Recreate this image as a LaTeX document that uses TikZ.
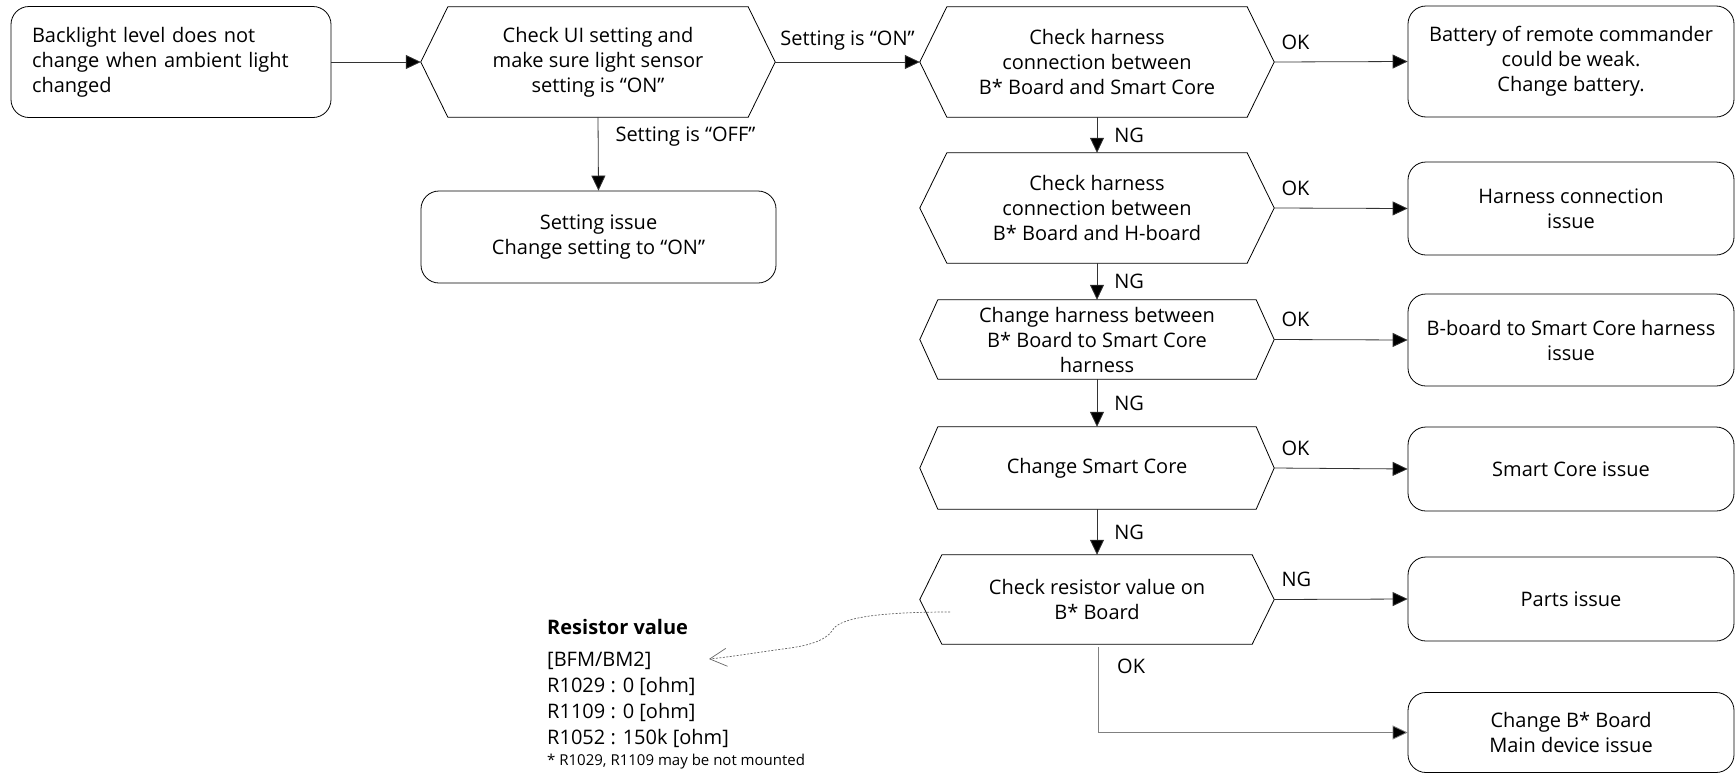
\documentclass[tikz,border=0pt]{standalone}
\usepackage{fontspec}
\setmainfont{Open Sans}
\usetikzlibrary{arrows.meta,calc}
\newcommand\hexdraw[2]{\draw[line width=0.8pt] (#1.west) -- ([xshift=#2]#1.north west) -- ([xshift=-#2]#1.north east) -- (#1.east) -- ([xshift=-#2]#1.south east) -- ([xshift=#2]#1.south west) -- cycle;}
\begin{document}
\begin{tikzpicture}[x=1pt,y=-1pt,
  every node/.style={font=\fontsize{20}{25}\selectfont},
  box/.style={draw, line width=0.8pt, rounded corners=18pt, align=center, inner sep=0pt},
  rbox/.style={box, minimum width=326pt},
  startbox/.style={draw, line width=0.8pt, rounded corners=18pt, align=left, inner xsep=21pt, inner ysep=0pt, text width=278pt, minimum height=111pt},
  hexn/.style={inner sep=0pt, align=center, minimum width=354pt},
  arr/.style={line width=0.8pt, draw=black!80, -{Triangle[length=15pt,width=14pt,fill=black]}},
  lbl/.style={inner sep=0pt, anchor=west}
]
\useasboundingbox (0,0) rectangle (1736,774);

% nodes
\node[startbox] (start) at (171,62) {Backlight level does not\\change when ambient light\\changed};
\node[hexn, minimum height=110pt] (h1) at (598,62) {Check UI setting and\\make sure light sensor\\setting is “ON”};
\node[box, minimum width=355pt, minimum height=92pt] (set) at (598.5,237) {Setting issue\\Change setting to “ON”};

\node[hexn, minimum height=110pt] (h2) at (1097,62) {Check harness\\connection between\\B* Board and Smart Core};
\node[hexn, minimum height=110pt] (h3) at (1097,208) {Check harness\\connection between\\B* Board and H-board};
\node[hexn, minimum height=79pt] (h4) at (1097,339.5) {Change harness between\\B* Board to Smart Core\\harness};
\node[hexn, minimum height=82pt] (h5) at (1097,468) {Change Smart Core};
\node[hexn, minimum height=89pt] (h6) at (1097,599.5) {Check resistor value on\\B* Board};

\hexdraw{h1}{27pt}
\hexdraw{h2}{27pt}
\hexdraw{h3}{27pt}
\hexdraw{h4}{18pt}
\hexdraw{h5}{18pt}
\hexdraw{h6}{22pt}

\node[rbox, minimum height=111pt] (b1) at (1571,61.5) {Battery of remote commander\\could be weak.\\Change battery.};
\node[rbox, minimum height=93pt] (b2) at (1571,208.5) {Harness connection\\issue};
\node[rbox, minimum height=92pt] (b3) at (1571,340) {B-board to Smart Core harness\\issue};
\node[rbox, minimum height=84pt] (b4) at (1571,469) {Smart Core issue};
\node[rbox, minimum height=84pt] (b5) at (1571,599) {Parts issue};
\node[rbox, minimum height=80pt] (b6) at (1571,732.5) {Change B* Board\\Main device issue};

% resistor note
\node[inner sep=0pt, anchor=north west, font=\fontsize{20}{25}\selectfont\bfseries] (rtitle) at (547,619) {Resistor value};
\node[inner sep=0pt, anchor=north west, align=left, font=\fontsize{20}{26}\selectfont] (rbody) at (547,652) {[BFM/BM2]\\R1029 : 0 [ohm]\\R1109 : 0 [ohm]\\R1052 : 150k [ohm]\\[-5pt]{\fontsize{15}{18}\selectfont * R1029, R1109 may be not mounted}};

% connectors
\draw[arr] (start.east) -- (h1.west);
\draw[arr] (h1.east) -- node[midway, inner sep=0pt, yshift=21pt] {Setting is “ON”} (h2.west);
\draw[arr] (h1.south) -- node[pos=0.27, lbl, xshift=17pt] {Setting is “OFF”} (set.north);

\draw[arr] (h2.east) -- node[pos=0, lbl, xshift=7pt, yshift=20pt] {OK} (b1.west);
\draw[arr] (h3.east) -- node[pos=0, lbl, xshift=7pt, yshift=20pt] {OK} (b2.west);
\draw[arr] (h4.east) -- node[pos=0, lbl, xshift=7pt, yshift=20pt] {OK} (b3.west);
\draw[arr] (h5.east) -- node[pos=0, lbl, xshift=7pt, yshift=20pt] {OK} (b4.west);
\draw[arr] (h6.east) -- node[pos=0, lbl, xshift=7pt, yshift=20pt] {NG} (b5.west);

\draw[arr] (h2.south) -- node[midway, lbl, xshift=17pt] {NG} (h3.north);
\draw[arr] (h3.south) -- node[midway, lbl, xshift=17pt] {NG} (h4.north);
\draw[arr] (h4.south) -- node[midway, lbl, xshift=17pt] {NG} (h5.north);
\draw[arr] (h5.south) -- node[midway, lbl, xshift=17pt] {NG} (h6.north);

\coordinate (okstart) at ([xshift=1pt,yshift=-3pt]h6.south);
\draw[arr, draw=black!50] (okstart) |- (b6.west);
\node[lbl] (oklbl) at (1117,666) {OK};

% dashed reference curve
\coordinate (dstart) at (950,612);
\coordinate (dend) at (709,659);
\draw[black!60, line width=0.7pt, dash pattern=on 2pt off 1.5pt, -{Straight Barb[length=17pt,width=18pt,line width=0.7pt]}]
  (dstart) .. controls (890,612) and (845,616) .. (834,628) .. controls (829,637) and (818,644) .. (790,648) .. controls (760,652) and (730,657) .. (dend);
\end{tikzpicture}
\end{document}
